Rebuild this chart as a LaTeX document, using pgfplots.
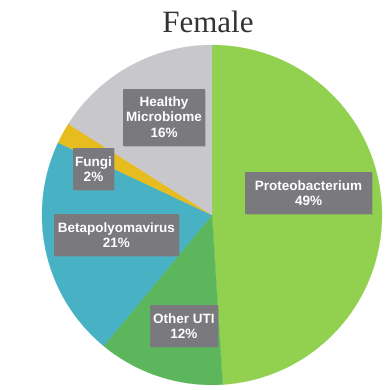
\documentclass[border=0pt]{standalone}
\usepackage{pgfplots}
\pgfplotsset{compat=1.18}
\usepackage{pgfplotstable}
\usepackage{fontspec}
\setmainfont{Liberation Sans}
\newfontfamily\titlefont{Liberation Serif}
\usetikzlibrary{shadows}
\definecolor{c0}{RGB}{146,208,80}
\definecolor{c1}{RGB}{92,182,92}
\definecolor{c2}{RGB}{72,178,196}
\definecolor{c3}{RGB}{230,188,30}
\definecolor{c4}{RGB}{200,200,204}
\definecolor{boxgray}{RGB}{122,122,126}
\tikzset{lbl/.style={fill=boxgray, text=white, font=\fontsize{13.5}{15.5}\selectfont\bfseries,
    align=center, inner xsep=4pt, inner ysep=8pt,
    drop shadow={shadow xshift=1pt, shadow yshift=-1pt, opacity=0.35}}}
\pgfplotstableread{
label value
Proteobacterium 49
OtherUTI 12
Betapolyomavirus 21
Fungi 2
Healthy 16
}\piedata
\begin{document}
\begin{tikzpicture}
\begin{axis}[
  scale only axis, width=391pt, height=390pt,
  xmin=-1.247, xmax=1.053, ymin=-1.03, ymax=1.265,
  hide axis, clip=false,
]
\path (axis cs:-1.247,-1.03) rectangle (axis cs:1.053,1.265);
\gdef\sA{90}
\pgfplotsforeachungrouped \i in {0,...,4}{%
  \pgfplotstablegetelem{\i}{value}\of\piedata
  \pgfmathsetmacro\eA{\sA-3.6*\pgfplotsretval}%
  \edef\temp{\noexpand\addplot[fill=c\i, draw=c\i, line width=0.2pt, domain=\eA:\sA, samples=80]
    ({cos(x)},{sin(x)}) -- (axis cs:0,0) -- cycle;}%
  \temp
  \global\let\sA\eA
}
\node[font=\titlefont\fontsize{31}{34}\selectfont, text=black!80] at (axis cs:-0.024,1.135) {Female};
\node[lbl, inner xsep=10pt] at (axis cs:0.568,0.129) {Proteobacterium\\49\%};
\node[lbl, inner xsep=3pt] at (axis cs:-0.165,-0.653) {Other UTI\\12\%};
\node[lbl] at (axis cs:-0.562,-0.118) {Betapolyomavirus\\21\%};
\node[lbl, inner xsep=2.5pt] at (axis cs:-0.697,0.27) {Fungi\\2\%};
\node[lbl, inner xsep=3pt] at (axis cs:-0.282,0.576) {Healthy\\Microbiome\\16\%};
\end{axis}
\end{tikzpicture}
\end{document}
